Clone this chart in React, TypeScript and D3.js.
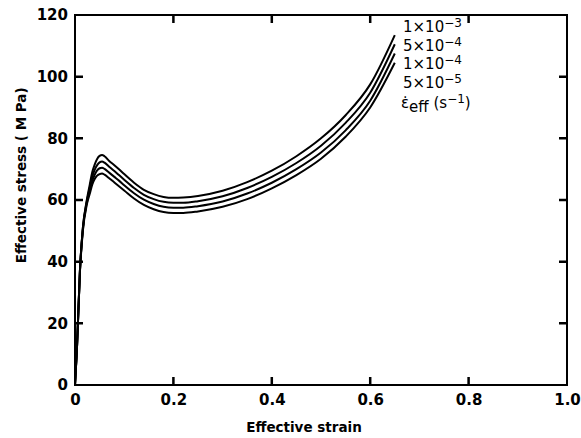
import { useEffect, useRef } from 'react'
import * as d3 from 'd3'

// effective strain (shared by all curves)
const strain = [0, 0.004, 0.01, 0.016, 0.024, 0.03, 0.035, 0.04, 0.045, 0.05, 0.055, 0.06, 0.07, 0.08, 0.09, 0.1,
  0.12, 0.14, 0.16, 0.18, 0.2, 0.22, 0.25, 0.3, 0.35, 0.4, 0.45, 0.5, 0.55, 0.6, 0.65]

// effective stress (MPa) for each strain rate
const stress1e3 = [0, 12, 37, 51, 60, 65, 69, 71.5, 73.3, 74.3, 74.6, 74.2, 72.6, 71.3, 69.9, 68.4,
  65.6, 63.3, 61.9, 61.0, 60.7, 60.8, 61.3, 63, 65.8, 69.5, 74.2, 80, 87.5, 97.5, 113.5]
const stress5e4 = [0, 12, 37, 51, 59.5, 64, 67.5, 69.8, 71.3, 72.2, 72.5, 72.1, 70.7, 69.4, 68, 66.6,
  63.9, 61.7, 60.3, 59.4, 59.1, 59.1, 59.6, 61.2, 63.9, 67.5, 72, 77.6, 85, 94.8, 110.5]
const stress1e4 = [0, 12, 37, 50.5, 59, 63, 66.2, 68.2, 69.6, 70.3, 70.5, 70.1, 68.8, 67.5, 66.2, 64.8,
  62.2, 60.1, 58.7, 57.8, 57.5, 57.5, 58, 59.5, 62.1, 65.6, 70, 75.4, 82.6, 92.2, 107.5]
const stress5e5 = [0, 12, 36.5, 50, 58.5, 62, 65, 66.8, 67.9, 68.4, 68.6, 68.2, 67, 65.7, 64.4, 63.1,
  60.5, 58.4, 57, 56.1, 55.8, 55.8, 56.3, 57.8, 60.3, 63.8, 68.1, 73.4, 80.5, 90, 104.5]

const rateMantissa = ['1', '5', '1', '5']
const rateExponent = ['−3', '−4', '−4', '−5']

const xTicks = [0, 0.2, 0.4, 0.6, 0.8, 1.0]
const yTicks = [0, 20, 40, 60, 80, 100, 120]

const W = 581
const H = 438
const margin = { top: 15, right: 14, bottom: 53, left: 75 }
const FONT = '"DejaVu Sans", sans-serif'

export default function App() {
  const svgRef = useRef<SVGSVGElement>(null)

  useEffect(() => {
    const svg = d3.select(svgRef.current)
    svg.selectAll('*').remove()

    const innerW = 567 - margin.left
    const innerH = H - margin.bottom - margin.top

    const x = d3.scaleLinear().domain([0, 1]).range([0, innerW])
    const y = d3.scaleLinear().domain([0, 120]).range([innerH, 0])

    const g = svg.append('g').attr('transform', `translate(${margin.left},${margin.top})`)

    // tick labels through d3 axes (their own tick lines are replaced below)
    const styleAxis = (sel: any) => {
      sel.select('.domain').remove()
      sel.selectAll('.tick line').remove()
      sel.selectAll('.tick text')
        .attr('font-family', FONT).attr('font-size', 15).attr('font-weight', 'bold').attr('fill', '#000')
    }
    g.append('g').attr('transform', `translate(0,${innerH})`)
      .call(d3.axisBottom(x).tickValues(xTicks).tickSize(0).tickPadding(9)
        .tickFormat(d => (+d === 0 ? '0' : (+d).toFixed(1))))
      .call(styleAxis)
    g.append('g')
      .call(d3.axisLeft(y).tickValues(yTicks).tickSize(0).tickPadding(7))
      .call(styleAxis)

    // inward tick marks on all four sides, one path
    const tickLen = 8
    const p = d3.path()
    xTicks.slice(1, -1).forEach(d => {
      p.moveTo(x(d), innerH); p.lineTo(x(d), innerH - tickLen)
      p.moveTo(x(d), 0); p.lineTo(x(d), tickLen)
    })
    yTicks.slice(1, -1).forEach(d => {
      p.moveTo(0, y(d)); p.lineTo(tickLen, y(d))
      p.moveTo(innerW, y(d)); p.lineTo(innerW - tickLen, y(d))
    })
    g.append('path').attr('d', p.toString())
      .attr('fill', 'none').attr('stroke', '#000').attr('stroke-width', 2.5)

    // frame
    g.append('rect')
      .attr('width', innerW).attr('height', innerH)
      .attr('fill', 'none').attr('stroke', '#000').attr('stroke-width', 2)

    // axis titles
    g.append('text')
      .attr('x', innerW / 2 - 17).attr('y', innerH + 47)
      .attr('text-anchor', 'middle')
      .attr('font-family', FONT).attr('font-size', 13.5).attr('font-weight', 'bold')
      .text('Effective strain')
    g.append('text')
      .attr('transform', `translate(${-49},${y(68)}) rotate(-90)`)
      .attr('text-anchor', 'middle')
      .attr('font-family', FONT).attr('font-size', 13.5).attr('font-weight', 'bold')
      .text('Effective stress ( M Pa)')

    // curves
    const series = [stress1e3, stress5e4, stress1e4, stress5e5]
    const line = d3.line<number>()
      .x((_, i) => x(strain[i]))
      .y(d => y(d))
      .curve(d3.curveMonotoneX)
    g.selectAll('.curve').data(series).enter().append('path')
      .attr('class', 'curve')
      .attr('d', d => line(d))
      .attr('fill', 'none').attr('stroke', '#000').attr('stroke-width', 2)

    // rate labels
    const lab = g.append('g').attr('font-family', FONT).attr('font-size', 15)
    rateMantissa.forEach((m, i) => {
      const t = lab.append('text').attr('x', 328).attr('y', 17 + i * 18.5)
      t.append('tspan').text(`${m}×10`)
      t.append('tspan').attr('dy', -5).attr('font-size', 12).text(rateExponent[i])
    })
    const e = lab.append('text').attr('x', 326).attr('y', 93)
    e.append('tspan').text('ε̇')
    e.append('tspan').attr('dy', 4).text('eff')
    e.append('tspan').attr('dy', -4).text(' (s')
    e.append('tspan').attr('dy', -5).attr('font-size', 12).text('−1')
    e.append('tspan').attr('dy', 5).text(')')
  }, [])

  return (
    <svg ref={svgRef} width={W} height={H}
      style={{ position: 'absolute', left: 0, top: 0, background: '#fff' }} />
  )
}
